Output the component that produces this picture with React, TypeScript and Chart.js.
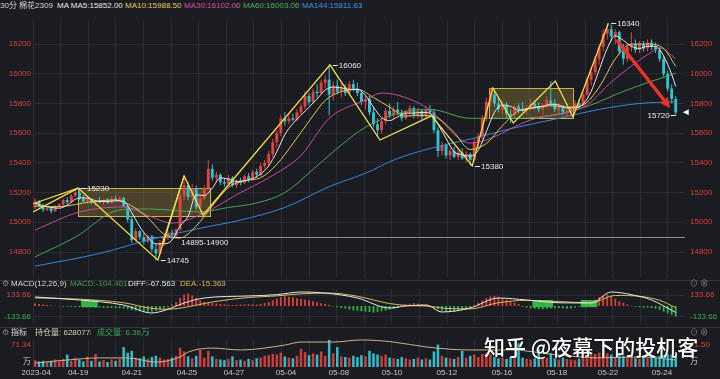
import React, { useEffect, useRef } from 'react';
import { Chart, registerables } from 'chart.js';
Chart.register(...registerables);

// ---------- data ----------
const opens = [
  15100,15140,15110,15085,15095,15075,15105,15120,15150,15135,
  15180,15200,15160,15140,15155,15130,15145,15135,15150,15130,
  15160,15145,15165,15110,15020,14880,14940,14900,14870,14905,
  14820,14790,14860,14895,14930,14910,14950,15180,15250,15170,
  15230,15100,15160,15230,15360,15300,15320,15270,15260,15300,
  15250,15280,15265,15310,15290,15340,15320,15380,15400,15460,
  15540,15600,15700,15680,15700,15690,15740,15780,15850,15810,
  15880,15870,15940,15960,15860,15920,15880,15910,15870,15930,
  15900,15870,15810,15830,15740,15660,15620,15680,15750,15720,
  15760,15740,15700,15740,15770,15720,15750,15710,15760,15740,
  15620,15480,15520,15450,15480,15440,15470,15430,15460,15420,
  15540,15580,15700,15810,15860,15800,15760,15790,15730,15720,
  15780,15760,15750,15770,15800,15780,15760,15790,15820,15800,
  15760,15780,15740,15750,15770,15800,15790,15860,15960,16010,
  16100,16180,16270,16300,16250,16280,16150,16100,16180,16200,
  16160,16200,16170,16210,16180,16160,16100,16000,15900,15830,
];
const highs = [
  15160,15150,15125,15110,15100,15115,15130,15160,15170,15190,
  15230,15215,15180,15165,15160,15150,15170,15155,15165,15175,
  15180,15175,15170,15115,15040,14960,14950,14930,14920,14915,
  14860,14880,14910,14940,14950,14960,15200,15312,15270,15260,
  15250,15180,15250,15420,15390,15340,15330,15300,15320,15310,
  15290,15300,15320,15330,15350,15360,15400,15420,15480,15560,
  15620,15720,15740,15720,15730,15760,15800,15880,15870,15900,
  15930,15960,15990,16060,15950,15960,15940,15930,15950,15960,
  15940,15890,15850,15850,15780,15700,15700,15770,15800,15780,
  15810,15760,15760,15790,15780,15770,15760,15780,15790,15760,
  15640,15540,15530,15500,15510,15490,15500,15480,15470,15560,
  15600,15720,15840,15904,15880,15840,15820,15810,15760,15790,
  15800,15810,15790,15830,15820,15810,15800,15850,15951,15830,
  15800,15790,15770,15790,15820,15830,15880,15980,16040,16120,
  16200,16300,16340,16330,16300,16290,16200,16200,16280,16230,
  16220,16220,16230,16230,16210,16180,16120,16020,15930,15850,
];
const lows = [
  15090,15100,15070,15075,15060,15070,15095,15110,15120,15130,
  15170,15150,15130,15120,15120,15110,15130,15115,15125,15125,
  15140,15135,15100,15000,14860,14870,14880,14850,14860,14800,
  14745,14780,14840,14880,14890,14900,14940,15150,15150,15150,
  15080,15049,15150,15220,15280,15270,15250,15240,15250,15240,
  15230,15250,15260,15270,15280,15300,15310,15360,15380,15440,
  15500,15580,15650,15660,15680,15680,15720,15760,15790,15800,
  15840,15860,15900,15720,15820,15860,15840,15850,15860,15880,
  15850,15790,15760,15720,15640,15580,15600,15660,15700,15690,
  15720,15680,15690,15710,15700,15700,15690,15700,15720,15600,
  15440,15450,15430,15420,15430,15420,15420,15400,15380,15410,
  15500,15560,15680,15780,15780,15740,15720,15700,15668,15700,
  15730,15740,15720,15750,15760,15740,15720,15770,15780,15740,
  15720,15720,15709,15720,15750,15760,15780,15850,15920,15990,
  16060,16150,16230,16220,16200,16130,16060,16080,16150,16140,
  16140,16150,16150,16160,16140,16080,15980,15880,15800,15720,
];
const closes = [
  15140,15110,15085,15095,15075,15105,15120,15150,15135,15180,
  15200,15160,15140,15155,15130,15145,15135,15150,15130,15160,
  15145,15165,15110,15020,14880,14940,14900,14870,14905,14820,
  14790,14860,14895,14930,14910,14950,15180,15250,15170,15230,
  15100,15160,15230,15360,15300,15320,15270,15260,15300,15250,
  15280,15265,15310,15290,15340,15320,15380,15400,15460,15540,
  15600,15700,15680,15700,15690,15740,15780,15850,15810,15880,
  15870,15940,15960,15860,15920,15880,15910,15870,15930,15900,
  15870,15810,15830,15740,15660,15620,15680,15750,15720,15760,
  15740,15700,15740,15770,15720,15750,15710,15760,15740,15620,
  15480,15520,15450,15480,15440,15470,15430,15460,15420,15540,
  15580,15700,15810,15860,15800,15760,15790,15730,15720,15780,
  15760,15750,15770,15800,15780,15760,15790,15820,15800,15760,
  15780,15740,15750,15770,15800,15790,15860,15960,16010,16100,
  16180,16270,16300,16250,16280,16150,16100,16180,16200,16160,
  16200,16170,16210,16180,16160,16100,16000,15900,15830,15740,
];
const volumes = [
  22,18,20,16,20,24,18,26,40,20,
  30,24,18,34,20,42,18,22,16,24,
  20,26,64,46,52,30,28,34,26,32,
  36,30,24,26,30,36,62,50,34,28,
  36,55,30,52,34,26,24,22,26,34,
  22,24,20,26,22,28,30,36,38,42,
  40,46,34,30,28,36,58,48,38,44,
  40,50,36,87,44,64,34,32,30,36,
  32,38,34,52,44,40,36,40,30,28,
  26,32,28,24,26,30,24,28,24,50,
  72,36,30,28,26,32,52,30,36,40,
  32,42,46,40,32,28,30,26,32,28,
  76,30,26,24,28,58,26,30,44,28,
  24,30,26,24,22,26,32,38,40,42,
  46,42,44,40,32,42,36,32,34,28,
  26,30,28,32,34,36,38,42,40,36,
];
const macdHist = [
  30,25,20,14,8,3,-4,-8,-10,-12,
  -14,-15,-16,-18,-18,-20,-20,-22,-24,-25,
  -26,-28,-32,-40,-50,-58,-64,-68,-72,-70,
  -60,-45,-30,-15,20,50,100,140,155,130,
  100,70,50,40,35,30,25,20,15,12,
  15,18,20,22,20,18,25,35,50,70,
  90,110,120,115,105,95,85,80,70,60,
  45,35,25,15,-5,-15,-25,-35,-45,-55,
  -60,-65,-70,-75,-80,-75,-65,-55,-45,-35,
  -25,10,20,30,35,30,25,15,5,-20,
  -40,-60,-70,-75,-70,-60,-50,-40,-25,15,
  40,70,100,120,125,115,100,80,60,40,
  25,-10,-20,-30,-35,-40,-40,-35,-30,-30,
  -25,-30,-35,-30,-20,-10,-5,20,50,80,
  110,130,140,120,90,60,40,20,5,-10,
  -15,-20,-20,-25,-35,-50,-70,-90,-110,-130,
];
const macdMarkIdx = [12, 13, 14, 15, 124, 125, 126, 127, 128, 136, 137, 138, 139];

const ma5Pts = [[0,15130],[2,15110],[4,15100],[6,15095],[8,15115],[10,15155],[12,15165],[14,15155],[16,15140],[18,15140],[20,15145],[22,15140],[24,15065],[26,14970],[28,14900],[30,14855],[32,14855],[34,14880],[36,14975],[38,15040],[40,15185],[42,15180],[44,15230],[46,15300],[48,15290],[50,15275],[52,15280],[54,15295],[56,15325],[58,15380],[60,15475],[62,15590],[64,15665],[66,15720],[68,15775],[70,15830],[72,15890],[74,15910],[76,15905],[78,15895],[80,15895],[82,15855],[84,15775],[86,15705],[88,15685],[90,15710],[92,15735],[94,15735],[96,15740],[98,15735],[100,15660],[102,15565],[104,15475],[106,15455],[108,15445],[110,15485],[112,15610],[114,15740],[116,15790],[118,15780],[120,15755],[122,15760],[124,15775],[126,15780],[128,15795],[130,15790],[132,15770],[134,15770],[136,15795],[138,15880],[140,16025],[142,16170],[144,16255],[146,16225],[148,16185],[150,16170],[152,16185],[154,16185],[156,16120],[158,15995],[159,15914]];
const ma10Pts = [[0,15110],[4,15105],[8,15110],[12,15130],[16,15145],[20,15150],[24,15110],[28,15030],[32,14920],[36,14895],[40,14975],[44,15110],[48,15235],[52,15280],[56,15300],[60,15390],[64,15530],[68,15680],[72,15820],[76,15880],[80,15895],[84,15840],[88,15775],[92,15715],[96,15720],[100,15700],[104,15605],[108,15490],[112,15530],[116,15650],[120,15750],[124,15770],[128,15785],[132,15775],[136,15790],[140,15910],[144,16100],[148,16200],[152,16200],[156,16170],[159,16050]];
const ma30Pts = [[0,14948],[11,15069],[22,15103],[28.5,15040],[34,14995],[41,15050],[51,15200],[58,15300],[66,15450],[73,15700],[82,15823],[86,15870],[97,15776],[108,15533],[123,15689],[137,15790],[143,15944],[153,16146],[155,16173],[159,16102]];
const ma60Pts = [[0,14767],[10,14900],[21,15083],[28,15090],[41,15070],[48,15100],[55,15130],[62,15200],[70,15380],[76,15520],[82,15640],[91,15740],[98,15760],[108,15700],[120,15700],[130,15730],[138,15790],[145,15870],[152,15940],[159,16003]];
const ma144Pts = [[0,14705],[16,14790],[28,14880],[41,14960],[51,15015],[62,15100],[73,15240],[82,15330],[90,15430],[100,15510],[108,15560],[118,15630],[130,15700],[140,15760],[150,15800],[159,15812]];

const zigX = [-0.5, 10.7, 30.5, 37, 41.7, 73.2, 85.6, 98.4, 108.5, 113.6, 118.7, 129.1, 133.5, 142.3];
const zigY = [15069, 15230, 14745, 15312, 15049, 16060, 15554, 15716, 15380, 15904, 15668, 15951, 15709, 16340];
const zig2X = [-0.5, 10.7];
const zig2Y = [15125, 15230];
const zig3X = [31.5, 37];
const zig3Y = [14850, 15312];

const diffPts = [[0,111],[11,74],[22,12],[29,-86],[33,-40],[37,37],[42,99],[53,124],[60,140],[66,173],[72,160],[80,99],[88,-25],[92,0],[97,12],[101,-74],[108,-25],[115,99],[122,74],[130,40],[138,37],[143,173],[148,140],[153,74],[159,-80]];
const deaPts = [[0,100],[11,85],[22,40],[29,-30],[33,-40],[38,-10],[44,50],[53,105],[60,125],[66,150],[73,160],[80,120],[88,30],[93,5],[97,0],[102,-30],[108,-35],[115,40],[122,70],[130,55],[138,40],[144,130],[150,120],[155,70],[159,-20]];
const oiPts = [[0,61.7],[8,63.0],[16,63.9],[23,63.9],[30,62.1],[36,64.3],[38,66.4],[44,68.1],[51,67.3],[62,69.4],[66,70.7],[74,70.7],[81,71.6],[89,70.7],[97,68.6],[108,67.3],[118,67.3],[130,65.1],[140,63.9],[150,64.3],[159,63.0]];

const boxI0 = [10.7, 112.7];
const boxI1 = [43.4, 133.5];
const boxTop = [15230, 15904];
const boxBottom = [15042, 15702];
const supportPrice = 14900;
const supportStart = 28.5;
const arrowFrom = [144.4, 16227];
const arrowTo = [157.6, 15770];

const markIdx = [10.9, 30.7, 34.3, 73.4, 108.7, 142.5, 159.5];
const markPrice = [15230, 14745, 14900, 16060, 15380, 16340, 15720];
const markText = ['15230', '14745', '14895-14900', '16060', '15380', '16340', '15720'];
const markSide = [1, 1, 1, 1, 1, 1, -1];
const markDy = [0, 0, 5, 0, 0, 0, 0];

const dateLabels = ['2023-04','04-19','04-21','04-25','04-27','05-04','05-08','05-10','05-12','05-16','05-18','05-22','05-24'];
const datePos = [0.3, 10.7, 24, 37.7, 49.4, 62.3, 75.4, 88.6, 102.2, 115.9, 129.5, 142.2, 155.6];
const priceTicks = [14800, 15000, 15200, 15400, 15600, 15800, 16000, 16200];
const macdTicks = [-133.66, 133.66];
const volTickVal = [18, 71.34];
const volTickText = ['万', '71.34'];
const volTickTextR = ['万', '71.50'];

// ---------- styles ----------
const FONT = '"Liberation Sans", Arial, "Noto Sans CJK SC", sans-serif';
const BG = '#1b1c21';
const GRID = '#2a2c33';
const UP = '#e2443f';
const DOWN = '#33c3cf';
const RED_TXT = '#d9413d';
const GREEN_TXT = '#35b150';
const LEFT_W = 33;
const RIGHT_W = 35;
const X_MIN = -0.5;
const X_MAX = 161.3;
const gridTicks: number[] = [];
for (let v = X_MIN; v <= X_MAX; v += 6.85) gridTicks.push(v);

const pts = (a: number[][]) => a.map(([x, y]) => ({ x, y }));
const dirColor = (i: number) => (closes[i] >= opens[i] ? UP : DOWN);

// grid-only x axis (used by the bars, so its tick spacing stays wide)
function xScale(): any {
  return {
    type: 'linear',
    min: X_MIN,
    max: X_MAX,
    offset: false,
    afterBuildTicks: (s: any) => {
      s.ticks = gridTicks.map((v) => ({ value: v }));
    },
    ticks: { display: false },
    grid: { color: GRID, drawTicks: false, offset: false },
    border: { display: false },
    afterFit: (s: any) => {
      s.height = 0;
      s.paddingLeft = 0;
      s.paddingRight = 0;
    },
  };
}

// date label axis
function xLabelScale(): any {
  return {
    type: 'linear',
    position: 'bottom',
    min: X_MIN,
    max: X_MAX,
    offset: false,
    afterBuildTicks: (s: any) => {
      s.ticks = datePos.map((v) => ({ value: v }));
    },
    ticks: {
      autoSkip: false,
      maxRotation: 0,
      padding: 1,
      color: '#c8c8c8',
      font: { size: 8, family: FONT },
      callback: (v: number) => {
        const k = datePos.indexOf(v);
        return k >= 0 ? dateLabels[k] : '';
      },
    },
    grid: { display: false, drawTicks: false },
    border: { display: false },
    afterFit: (s: any) => {
      s.height = 12;
      s.paddingLeft = 0;
      s.paddingRight = 0;
    },
  };
}

function yScale(side: 'left' | 'right', min: number, max: number, tickVals: number[], fmt: (v: number) => string, color: any, showGrid: boolean): any {
  return {
    type: 'linear',
    position: side,
    min,
    max,
    afterBuildTicks: (s: any) => {
      s.ticks = tickVals.map((v) => ({ value: v }));
    },
    ticks: {
      color,
      font: { size: 8, family: FONT },
      padding: side === 'left' ? 2 : 5,
      callback: (v: number) => fmt(v),
    },
    grid: { display: showGrid, color: GRID, drawTicks: false },
    border: { display: false },
    afterFit: (s: any) => {
      s.width = side === 'left' ? LEFT_W : RIGHT_W;
      s.paddingTop = 0;
      s.paddingBottom = 0;
    },
  };
}

const annotPlugin = {
  id: 'annot',
  beforeDatasetsDraw(chart: any) {
    const { ctx, scales, chartArea } = chart;
    const x = scales.x;
    const y = scales.y;
    ctx.save();
    for (let k = 0; k < boxI0.length; k++) {
      const x0 = x.getPixelForValue(boxI0[k]);
      const x1 = x.getPixelForValue(boxI1[k]);
      const y0 = y.getPixelForValue(boxTop[k]);
      const y1 = y.getPixelForValue(boxBottom[k]);
      ctx.fillStyle = 'rgba(170,150,60,0.33)';
      ctx.fillRect(x0, y0, x1 - x0, y1 - y0);
      ctx.strokeStyle = '#c9b44a';
      ctx.lineWidth = 1;
      ctx.strokeRect(Math.round(x0) + 0.5, Math.round(y0) + 0.5, Math.round(x1 - x0), Math.round(y1 - y0));
    }
    const sy = Math.round(y.getPixelForValue(supportPrice)) + 0.5;
    ctx.strokeStyle = '#8e8e8e';
    ctx.beginPath();
    ctx.moveTo(x.getPixelForValue(supportStart), sy);
    ctx.lineTo(chartArea.right, sy);
    ctx.stroke();
    ctx.restore();
  },
  afterDatasetsDraw(chart: any) {
    const { ctx, scales } = chart;
    const x = scales.x;
    const y = scales.y;
    ctx.save();
    ctx.font = '8px ' + FONT;
    ctx.textBaseline = 'middle';
    ctx.fillStyle = '#e8e8e8';
    ctx.strokeStyle = '#e8e8e8';
    ctx.lineWidth = 1;
    for (let k = 0; k < markIdx.length; k++) {
      const px = x.getPixelForValue(markIdx[k]);
      const py = Math.round(y.getPixelForValue(markPrice[k])) + 0.5;
      const s = markSide[k];
      ctx.beginPath();
      ctx.moveTo(px + 2 * s, py);
      ctx.lineTo(px + 7 * s, py);
      ctx.stroke();
      ctx.textAlign = s > 0 ? 'left' : 'right';
      ctx.fillText(markText[k], px + 8 * s, py + markDy[k]);
    }
    // red arrow
    const ax0 = x.getPixelForValue(arrowFrom[0]);
    const ay0 = y.getPixelForValue(arrowFrom[1]);
    const ax1 = x.getPixelForValue(arrowTo[0]);
    const ay1 = y.getPixelForValue(arrowTo[1]);
    const ang = Math.atan2(ay1 - ay0, ax1 - ax0);
    const hl = 10;
    const hw = 5;
    const bx = ax1 - hl * Math.cos(ang);
    const by = ay1 - hl * Math.sin(ang);
    ctx.strokeStyle = '#e8352b';
    ctx.fillStyle = '#e8352b';
    ctx.lineWidth = 3.5;
    ctx.beginPath();
    ctx.moveTo(ax0, ay0);
    ctx.lineTo(bx, by);
    ctx.stroke();
    ctx.beginPath();
    ctx.moveTo(ax1, ay1);
    ctx.lineTo(bx + hw * Math.sin(ang), by - hw * Math.cos(ang));
    ctx.lineTo(bx - hw * Math.sin(ang), by + hw * Math.cos(ang));
    ctx.closePath();
    ctx.fill();
    // last price marker
    const lx = x.getPixelForValue(closes.length - 1) + 7;
    const ly = y.getPixelForValue(closes[closes.length - 1]);
    ctx.fillStyle = '#f0f0f0';
    ctx.beginPath();
    ctx.moveTo(lx, ly);
    ctx.lineTo(lx + 6, ly - 3);
    ctx.lineTo(lx + 6, ly + 3);
    ctx.closePath();
    ctx.fill();
    ctx.restore();
  },
};

const lineDs = (data: any[], color: string, order: number, width = 1, smooth = true): any => ({
  type: 'line',
  data,
  borderColor: color,
  borderWidth: width,
  pointRadius: 0,
  cubicInterpolationMode: smooth ? 'monotone' : 'default',
  tension: 0,
  order,
  yAxisID: 'y',
});

function mainConfig(): any {
  const idx = closes.map((_, i) => i);
  return {
    type: 'bar',
    data: {
      datasets: [
        lineDs(zigX.map((v, i) => ({ x: v, y: zigY[i] })), '#f4e04a', 0, 1.3, false),
        lineDs(zig2X.map((v, i) => ({ x: v, y: zig2Y[i] })), '#f4e04a', 0, 1.1, false),
        lineDs(zig3X.map((v, i) => ({ x: v, y: zig3Y[i] })), '#f4e04a', 0, 1.1, false),
        lineDs(pts(ma5Pts), '#e6e6e6', 1),
        lineDs(pts(ma10Pts), '#e3c75a', 1),
        lineDs(pts(ma30Pts), '#c84c98', 1),
        lineDs(pts(ma60Pts), '#47a852', 1),
        lineDs(pts(ma144Pts), '#3a86d8', 1),
        {
          type: 'bar',
          data: idx.map((i) => ({ x: i, y: [opens[i], closes[i]] })),
          backgroundColor: idx.map(dirColor),
          grouped: false,
          categoryPercentage: 1,
          barPercentage: 0.72,
          minBarLength: 1,
          order: 2,
          yAxisID: 'y',
        },
        {
          type: 'bar',
          data: idx.map((i) => ({ x: i, y: [lows[i], highs[i]] })),
          backgroundColor: idx.map(dirColor),
          grouped: false,
          categoryPercentage: 1,
          barPercentage: 0.25,
          order: 3,
          yAxisID: 'y',
        },
      ],
    },
    options: {
      responsive: false,
      animation: false,
      layout: { padding: { top: 1, bottom: 2, left: 0, right: 0 } },
      plugins: { legend: { display: false }, tooltip: { enabled: false } },
      events: [],
      scales: {
        x: xScale(),
        y: yScale('left', 14625, 16355, priceTicks, (v) => String(v), RED_TXT, true),
        yR: yScale('right', 14625, 16355, priceTicks, (v) => String(v), RED_TXT, false),
      },
    },
    plugins: [annotPlugin],
  };
}

function macdConfig(): any {
  const idx = macdHist.map((_, i) => i);
  const tickColor = (ctx: any) => (ctx.tick && ctx.tick.value > 0 ? RED_TXT : GREEN_TXT);
  return {
    type: 'bar',
    data: {
      datasets: [
        { ...lineDs(pts(diffPts), '#e8e8e8', 0), yAxisID: 'y' },
        { ...lineDs(pts(deaPts), '#d9bc5c', 0), yAxisID: 'y' },
        {
          type: 'bar',
          data: macdMarkIdx.map((i) => ({ x: i, y: [-10, 70] })),
          backgroundColor: 'rgba(58,200,78,0.85)',
          grouped: false,
          categoryPercentage: 1,
          barPercentage: 1,
          order: 1,
          yAxisID: 'y',
        },
        {
          type: 'bar',
          data: idx.map((i) => ({ x: i, y: macdHist[i] })),
          backgroundColor: idx.map((i) => (macdHist[i] >= 0 ? '#d9423c' : '#2fae4a')),
          grouped: false,
          categoryPercentage: 1,
          barPercentage: 0.45,
          order: 2,
          yAxisID: 'y',
        },
      ],
    },
    options: {
      responsive: false,
      animation: false,
      layout: { padding: { top: 1, bottom: 1, left: 0, right: 0 } },
      plugins: { legend: { display: false }, tooltip: { enabled: false } },
      events: [],
      scales: {
        x: xScale(),
        y: yScale('left', -210, 210, macdTicks, (v) => v.toFixed(2), tickColor, true),
        yR: yScale('right', -210, 210, macdTicks, (v) => v.toFixed(2), tickColor, false),
      },
    },
  };
}

function volConfig(): any {
  const idx = volumes.map((_, i) => i);
  const tickColor = (ctx: any) => (ctx.tick && ctx.tick.value > 50 ? RED_TXT : '#d0d0d0');
  return {
    type: 'bar',
    data: {
      datasets: [
        {
          type: 'bar',
          data: idx.map((i) => ({ x: i, y: volumes[i] })),
          backgroundColor: idx.map((i) => (closes[i] >= opens[i] ? '#c8403b' : '#2fbfcc')),
          grouped: false,
          categoryPercentage: 1,
          barPercentage: 0.62,
          order: 1,
          yAxisID: 'y',
          xAxisID: 'x',
        },
        {
          type: 'line',
          data: pts(oiPts),
          borderColor: '#c9b38b',
          borderWidth: 1,
          pointRadius: 0,
          cubicInterpolationMode: 'monotone',
          order: 0,
          yAxisID: 'yOI',
          xAxisID: 'x',
        },
      ],
    },
    options: {
      responsive: false,
      animation: false,
      layout: { padding: 0 },
      plugins: { legend: { display: false }, tooltip: { enabled: false } },
      events: [],
      scales: {
        x: xScale(),
        xLab: xLabelScale(),
        y: yScale('left', 0, 90, volTickVal, (v) => volTickText[volTickVal.indexOf(v)] ?? '', tickColor, false),
        yR: yScale('right', 0, 90, volTickVal, (v) => volTickTextR[volTickVal.indexOf(v)] ?? '', tickColor, false),
        yOI: { type: 'linear', display: false, min: 60, max: 72 },
      },
    },
  };
}

const txt = (left: number, top: number, color: string, s: string, size = 8): React.ReactElement => (
  <span
    style={{
      position: 'absolute',
      left,
      top,
      color,
      fontSize: size,
      lineHeight: '10px',
      whiteSpace: 'nowrap',
      fontFamily: FONT,
    }}
  >
    {s}
  </span>
);

export default function App() {
  const mainRef = useRef<HTMLCanvasElement>(null);
  const macdRef = useRef<HTMLCanvasElement>(null);
  const volRef = useRef<HTMLCanvasElement>(null);

  useEffect(() => {
    document.body.style.margin = '0';
    const charts = [
      new Chart(mainRef.current as HTMLCanvasElement, mainConfig()),
      new Chart(macdRef.current as HTMLCanvasElement, macdConfig()),
      new Chart(volRef.current as HTMLCanvasElement, volConfig()),
    ];
    return () => charts.forEach((c) => c.destroy());
  }, []);

  const arrowDn = (l: number) => txt(l, 1, '#2fb14a', '↓');
  return (
    <div style={{ position: 'relative', width: 720, height: 379, background: BG, overflow: 'hidden' }}>
      {/* header */}
      {txt(0, 1, '#d0d0d0', '30分 棉花2309')}
      {txt(57, 1, '#e6e6e6', 'MA MA5:15852.00')}
      {arrowDn(119)}
      {txt(125, 1, '#e3c75a', 'MA10:15988.50')}
      {arrowDn(176)}
      {txt(184, 1, '#d04fa0', 'MA30:16102.00')}
      {arrowDn(235)}
      {txt(243, 1, '#47b05a', 'MA60:16003.00')}
      {txt(294, 1, '#e2443f', '↑')}
      {txt(302, 1, '#3a8fe0', 'MA144:15811.63')}
      {arrowDn(358)}

      <canvas ref={mainRef} width={720} height={260} style={{ position: 'absolute', left: 0, top: 20, width: 720, height: 260 }} />

      <div style={{ position: 'absolute', left: 0, top: 280, width: 720, height: 1, background: '#33353c' }} />
      {/* MACD header */}
      {txt(2, 279, '#8a8a8a', '⚙')}
      {txt(11, 279, '#d8d8d8', 'MACD(12,26,9)')}
      {txt(70, 279, '#3aa655', 'MACD:-104.401↓')}
      {txt(128, 279, '#e6e6e6', 'DIFF:-67.563')}
      {txt(172, 279, '#2fb14a', '↓')}
      {txt(180, 279, '#e0b24a', 'DEA:-15.363')}
      {txt(220, 279, '#2fb14a', '↓')}
      {txt(690, 279, '#8a8a8a', '⊙ ⊗')}

      <canvas ref={macdRef} width={720} height={36} style={{ position: 'absolute', left: 0, top: 288, width: 720, height: 36 }} />

      <div style={{ position: 'absolute', left: 0, top: 327, width: 720, height: 1, background: '#33353c' }} />
      {/* volume header */}
      {txt(2, 328, '#8a8a8a', '⚙')}
      {txt(11, 328, '#d8d8d8', '指标')}
      {txt(35, 328, '#d8cfae', '持仓量: 628077')}
      {txt(88, 328, '#2fb14a', '↓')}
      {txt(97, 328, '#3aa655', '成交量: 6.36万')}
      {txt(146, 328, '#2fb14a', '↓')}
      {txt(690, 328, '#8a8a8a', '⊙ ⊗')}

      <canvas ref={volRef} width={720} height={40} style={{ position: 'absolute', left: 0, top: 339, width: 720, height: 40 }} />

      {/* watermark */}
      <div
        style={{
          position: 'absolute',
          left: 484,
          top: 333,
          color: '#ffffff',
          fontSize: 21,
          lineHeight: '26px',
          fontWeight: 500,
          whiteSpace: 'nowrap',
          fontFamily: '"Noto Sans CJK SC", sans-serif',
          textShadow: '0 0 2px rgba(0,0,0,0.6)',
        }}
      >
        知乎 @夜幕下的投机客
      </div>
    </div>
  );
}
